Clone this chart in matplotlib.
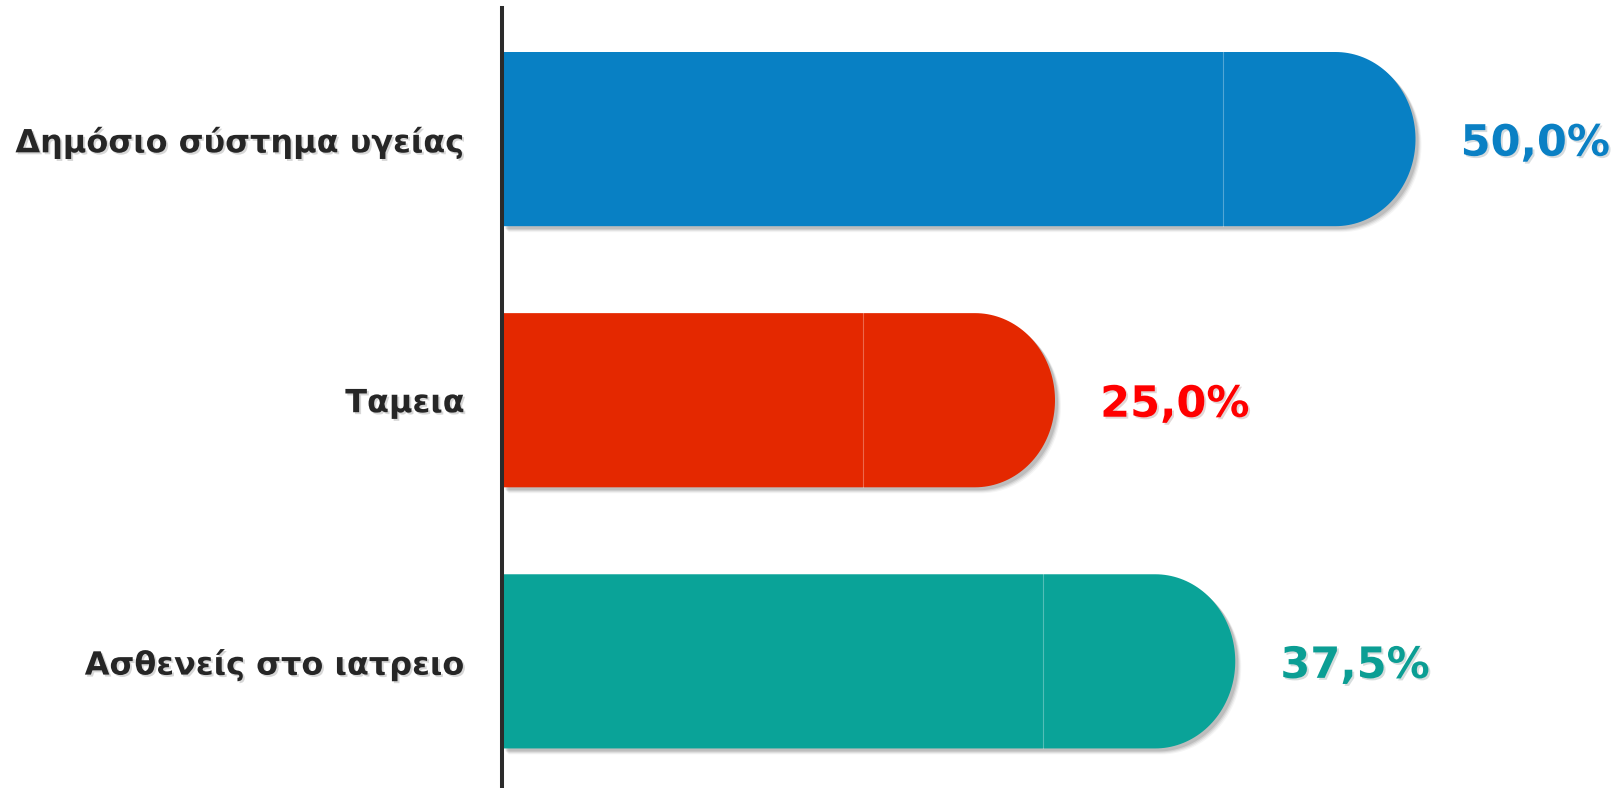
import numpy as np
import matplotlib
matplotlib.use("Agg")
import matplotlib.pyplot as plt
from matplotlib.patches import PathPatch
from matplotlib.path import Path
import matplotlib.patheffects as pe

categories = ["Δημόσιο σύστημα υγείας", "Ταμεια", "Ασθενείς στο ιατρειο"]
values = [50.0, 25.0, 37.5]
value_labels = ["50,0%", "25,0%", "37,5%"]
bar_colors = ["#0880C4", "#E42800", "#0AA398"]
text_colors = ["#0A80C4", "#FF0000", "#0B9E94"]

W, H, DPI = 1624, 788, 100
fig = plt.figure(figsize=(W / DPI, H / DPI), dpi=DPI)
ax = fig.add_axes([502.5 / W, 0, 1 - 502.5 / W, (H - 8) / H])

px_per_unit = 14.42           # horizontal pixels per percent
flat_w = 112 / px_per_unit    # flat part of the rounded cap
round_w = 80 / px_per_unit    # elliptical part of the cap
bar_h = 0.667


def shadow_effects():
    fx = []
    for off, a in [(6, 0.04), (5, 0.06), (4, 0.08), (3, 0.1)]:
        fx.append(pe.SimplePatchShadow(offset=(off * 0.72, -off * 0.72), shadow_rgbFace="k", alpha=a))
    fx.append(pe.Normal())
    return fx


def text_shadow():
    return [pe.SimplePatchShadow(offset=(1.4, -1.4), alpha=0.16), pe.Normal()]


for i, (v, col) in enumerate(zip(values, bar_colors)):
    top, bot = i - bar_h / 2, i + bar_h / 2
    x0 = v + flat_w
    t = np.linspace(np.pi / 2, -np.pi / 2, 80)
    ex = x0 + round_w * np.cos(t)
    ey = i - (bar_h / 2) * np.sin(t)
    verts = [(0, top), (x0, top)] + list(zip(ex, ey)) + [(x0, bot), (0, bot), (0, top)]
    codes = [Path.MOVETO] + [Path.LINETO] * (len(verts) - 2) + [Path.CLOSEPOLY]
    patch = PathPatch(Path(verts, codes), facecolor=col, edgecolor="none", zorder=2)
    patch.set_path_effects(shadow_effects())
    ax.add_patch(patch)
    # thin seam where the rectangle meets the rounded end
    ax.plot([v, v], [top, bot], color="white", lw=0.8, alpha=0.3, zorder=3)

    ax.annotate(value_labels[i], xy=(v + flat_w + round_w, i), xytext=(32.5, 0),
                textcoords="offset points", ha="left", va="center_baseline",
                fontsize=31, fontweight="bold", color=text_colors[i],
                path_effects=text_shadow())

ax.set_xlim(0, (W - 502.5) / px_per_unit)
ax.set_ylim(2.485, -0.502)
ax.set_yticks(range(len(categories)))
ax.set_yticklabels(categories, fontsize=23, fontweight="bold", color="#262626")
for lab in ax.get_yticklabels():
    lab.set_path_effects(text_shadow())
ax.tick_params(axis="y", length=0, pad=27)
ax.set_xticks([])
for s in ["top", "right", "bottom"]:
    ax.spines[s].set_visible(False)
ax.spines["left"].set_linewidth(2.9)
ax.spines["left"].set_color("#2b2b2b")
ax.set_facecolor("none")

fig.savefig("out.png", dpi=DPI)
